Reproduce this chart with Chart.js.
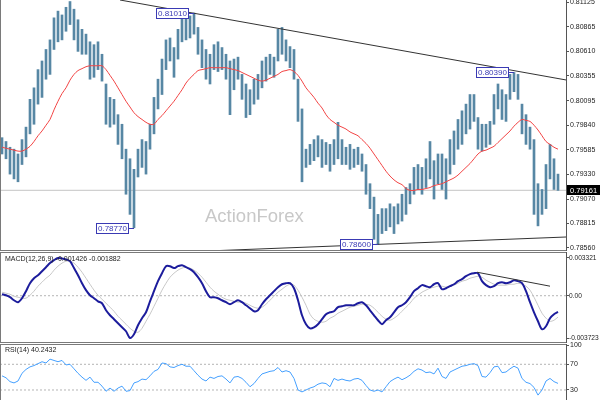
<!DOCTYPE html>
<html>
<head>
<meta charset="utf-8">
<script src="https://cdn.jsdelivr.net/npm/chart.js@4.4.1/dist/chart.umd.min.js"></script>
<style>
  body { margin: 0; background: #fff; width: 600px; height: 400px; overflow: hidden; position: relative; }
  canvas { position: absolute; left: 0; }
</style>
</head>
<body>
<canvas id="priceChart" width="600" height="251" style="top:0"></canvas>
<canvas id="macdChart" width="600" height="91" style="top:252px"></canvas>
<canvas id="rsiChart" width="600" height="60" style="top:340px"></canvas>
<script>
// price bars (one bar per 4px column of the reference)
const highs = [
  0.7971,0.7967,0.7961,0.7959,0.7954,0.7969,0.7982,0.8011,0.8023,0.8042,
  0.8051,0.8063,0.8073,0.8096,0.8103,0.8099,0.8107,0.8113,0.8105,0.8094,
  0.8084,0.8079,0.8071,0.8068,0.8071,0.8058,0.8027,0.8013,0.8011,0.7995,
  0.7985,0.7959,0.7949,0.7938,0.7959,0.7969,0.7967,0.7985,0.8013,0.8032,
  0.8053,0.8073,0.8075,0.8065,0.8084,0.8100,0.8096,0.8098,0.8101,0.8086,
  0.8073,0.8063,0.8058,0.8068,0.8071,0.8065,0.8058,0.8051,0.8053,0.8055,
  0.8037,0.8027,0.8021,0.8032,0.8037,0.8051,0.8055,0.8058,0.8055,0.8084,
  0.8086,0.8073,0.8066,0.8063,0.8032,0.8001,0.7959,0.7964,0.7969,0.7973,
  0.7969,0.7966,0.7964,0.7969,0.7987,0.7969,0.7961,0.7964,0.7959,0.7961,
  0.7954,0.7943,0.7923,0.7909,0.7891,0.7897,0.7897,0.7902,0.7899,0.7902,
  0.7912,0.7919,0.7923,0.7940,0.7943,0.7940,0.7949,0.7967,0.7947,0.7954,
  0.7954,0.7949,0.7969,0.7978,0.7990,0.7999,0.8006,0.8016,0.8016,0.7992,
  0.7985,0.7985,0.7988,0.8016,0.8027,0.8021,0.8016,0.8037,0.8039,0.8037,
  0.8006,0.7995,0.7982,0.7969,0.7923,0.7917,0.7943,0.7964,0.7949,0.7933
];
const lows = [
  0.7954,0.7949,0.7933,0.7928,0.7925,0.7943,0.7951,0.7975,0.7985,0.8006,
  0.8013,0.8032,0.8037,0.8063,0.8071,0.8073,0.8082,0.8089,0.8073,0.8061,
  0.8058,0.8058,0.8032,0.8034,0.8042,0.8030,0.7985,0.7982,0.7985,0.7964,
  0.7949,0.7912,0.7891,0.7877,0.7930,0.7940,0.7933,0.7959,0.7975,0.8001,
  0.8016,0.8042,0.8051,0.8034,0.8053,0.8071,0.8073,0.8075,0.8079,0.8058,
  0.8044,0.8032,0.8027,0.8042,0.8040,0.8042,0.8032,0.7995,0.8021,0.8032,
  0.8011,0.7992,0.7995,0.8006,0.8011,0.8023,0.8030,0.8037,0.8034,0.8051,
  0.8058,0.8051,0.8044,0.8032,0.7988,0.7925,0.7940,0.7943,0.7947,0.7951,
  0.7940,0.7943,0.7936,0.7943,0.7949,0.7943,0.7943,0.7938,0.7940,0.7943,
  0.7936,0.7912,0.7897,0.7865,0.7860,0.7871,0.7874,0.7878,0.7871,0.7881,
  0.7884,0.7891,0.7902,0.7912,0.7917,0.7912,0.7919,0.7928,0.7907,0.7923,
  0.7917,0.7907,0.7933,0.7943,0.7959,0.7964,0.7975,0.7980,0.7988,0.7959,
  0.7957,0.7961,0.7964,0.7985,0.8001,0.7990,0.7988,0.8011,0.8019,0.8011,
  0.7975,0.7964,0.7959,0.7891,0.7879,0.7891,0.7897,0.7928,0.7917,0.7916
];
const movingAvg = [
  0.7961,0.7960,0.7959,0.7958,0.7957,0.7957,0.7959,0.7962,0.7967,0.7973,
  0.7978,0.7984,0.7990,0.8000,0.8009,0.8017,0.8023,0.8031,0.8037,0.8041,
  0.8043,0.8045,0.8046,0.8046,0.8046,0.8046,0.8042,0.8036,0.8030,0.8023,
  0.8016,0.8009,0.8003,0.7997,0.7993,0.7990,0.7987,0.7985,0.7985,0.7990,
  0.7994,0.7999,0.8004,0.8009,0.8015,0.8021,0.8028,0.8033,0.8037,0.8041,
  0.8042,0.8043,0.8044,0.8044,0.8044,0.8044,0.8044,0.8043,0.8042,0.8041,
  0.8039,0.8037,0.8035,0.8033,0.8031,0.8030,0.8031,0.8033,0.8035,0.8037,
  0.8040,0.8041,0.8042,0.8040,0.8036,0.8030,0.8023,0.8018,0.8013,0.8007,
  0.8002,0.7995,0.7990,0.7987,0.7984,0.7982,0.7980,0.7977,0.7975,0.7973,
  0.7969,0.7965,0.7960,0.7954,0.7948,0.7942,0.7936,0.7931,0.7927,0.7924,
  0.7922,0.7918,0.7916,0.7916,0.7917,0.7917,0.7918,0.7919,0.7921,0.7922,
  0.7923,0.7925,0.7927,0.7929,0.7932,0.7936,0.7940,0.7944,0.7949,0.7954,
  0.7957,0.7958,0.7960,0.7962,0.7966,0.7970,0.7974,0.7978,0.7983,0.7987,
  0.7990,0.7989,0.7988,0.7984,0.7979,0.7973,0.7967,0.7964,0.7961,0.7959
];
const macdLine = [
  0.00013,0.00004,-0.00013,-0.0004,-0.00057,-0.00022,0.0004,0.0011,0.00154,0.00181,
  0.00216,0.00251,0.00287,0.00313,0.00332,0.00328,0.0032,0.00304,0.00243,0.00181,
  0.0011,0.00049,0.00004,-0.00022,-0.00049,-0.00066,-0.00128,-0.00172,-0.00207,-0.00243,
  -0.00278,-0.00313,-0.00372,-0.0034,-0.0026,-0.00198,-0.00146,-0.00049,0.0004,0.00128,
  0.00198,0.0026,0.0026,0.00243,0.0026,0.00269,0.00251,0.00234,0.00207,0.00163,
  0.0011,0.0004,-0.00013,-0.00013,-0.00022,-0.0004,-0.00057,-0.00075,-0.00057,-0.0004,
  -0.00057,-0.00084,-0.0011,-0.00137,-0.00128,-0.00075,-0.00031,0.00004,0.0004,0.00075,
  0.00101,0.0011,0.0011,0.00066,-0.0004,-0.00172,-0.00251,-0.00287,-0.00278,-0.00251,
  -0.00207,-0.00163,-0.00146,-0.00137,-0.00101,-0.00093,-0.00084,-0.00084,-0.00084,-0.00066,
  -0.00057,-0.00084,-0.00128,-0.00172,-0.00216,-0.00251,-0.00216,-0.0019,-0.00146,-0.00101,
  -0.00084,-0.00057,-0.00013,0.0004,0.00066,0.00093,0.00084,0.00075,0.00101,0.0011,
  0.00057,0.00066,0.00084,0.00101,0.00128,0.00146,0.00172,0.0019,0.00198,0.00198,
  0.00128,0.00093,0.00075,0.00084,0.0011,0.00119,0.0011,0.00119,0.00137,0.00128,
  0.0011,0.0004,-0.00057,-0.00146,-0.00225,-0.00295,-0.00269,-0.00198,-0.00163,-0.00143
];
const signalLine = [
  0.00031,0.00022,0.00013,-0.00004,-0.00013,-0.00022,-0.00022,0.00004,0.0004,0.00084,
  0.00119,0.00154,0.00181,0.00225,0.0026,0.00287,0.00304,0.00304,0.00287,0.00251,
  0.00207,0.00154,0.00101,0.00049,0.00004,-0.00031,-0.00066,-0.00101,-0.00137,-0.00181,
  -0.00216,-0.00251,-0.00287,-0.00313,-0.00322,-0.00287,-0.00225,-0.00163,-0.00093,-0.00022,
  0.00049,0.0011,0.00163,0.00198,0.00225,0.00243,0.00251,0.00243,0.00225,0.00198,
  0.00163,0.00119,0.00075,0.0004,0.00013,-0.00013,-0.00031,-0.0004,-0.00049,-0.00057,
  -0.00057,-0.00066,-0.00084,-0.00101,-0.0011,-0.00101,-0.00075,-0.0004,-0.00004,0.00031,
  0.00057,0.00084,0.00101,0.00093,0.00049,-0.00013,-0.00084,-0.00163,-0.00207,-0.00225,
  -0.00234,-0.00225,-0.00198,-0.00181,-0.00154,-0.00137,-0.00119,-0.00101,-0.00093,-0.00084,
  -0.00075,-0.00075,-0.00084,-0.0011,-0.00146,-0.00181,-0.00207,-0.00216,-0.00198,-0.00172,
  -0.00137,-0.00101,-0.00066,-0.00022,0.00004,0.00031,0.00049,0.00066,0.00075,0.00084,
  0.00084,0.00075,0.00084,0.00093,0.0011,0.00128,0.00137,0.00154,0.00163,0.00172,
  0.00163,0.00137,0.00119,0.00101,0.00093,0.00093,0.00093,0.00101,0.00101,0.0011,
  0.00101,0.00084,0.00049,-0.00013,-0.00084,-0.00154,-0.00198,-0.00225,-0.00216,-0.00188
];
const rsiLine = [
  52,49,43,41,44,56,62,66,68,71,
  74,72,78,76,74,76,69,70,63,56,
  50,45,50,42,42,36,28,33,28,33,
  36,28,29,41,43,47,46,52,59,62,
  72,71,66,65,68,70,67,67,60,53,
  47,44,50,48,51,52,47,41,50,51,
  48,42,35,40,48,55,57,59,60,65,
  58,60,58,48,30,27,30,33,35,39,
  41,40,35,48,45,47,45,44,47,48,
  45,37,30,28,30,27,35,43,47,50,
  46,49,53,59,63,61,57,58,55,64,
  51,48,58,61,64,67,68,70,71,68,
  51,50,57,66,67,57,58,63,67,64,
  48,42,40,34,22,30,44,48,43,40.24
];

const priceTicks = [0.81125, 0.80865, 0.80610, 0.80355, 0.80095, 0.79840, 0.79585, 0.79330, 0.79070, 0.78815, 0.78560];
const macdTicks = [0.003321, 0, -0.003723];
const rsiTicks = [100, 70, 30];
const rsiLevels = [70, 30];
const lastClose = 0.79161;

// labelled swing points (bar index, price)
const markIdx = [48, 33, 94, 128];
const markVals = [0.81010, 0.78770, 0.78600, 0.80390];

// trend lines: [bar index], [value]
const upperTrendX = [29.5, 141], upperTrendY = [0.81146, 0.80312];
const lowerTrendX = [49.5, 141], lowerTrendY = [0.78525, 0.78674];
const macdTrendX = [118.75, 137], macdTrendY = [0.00207, 0.00084];

Chart.defaults.font.family = "'Liberation Sans', Arial, sans-serif";
Chart.defaults.font.size = 7;
Chart.defaults.color = '#222';
Chart.defaults.animation = false;
Chart.defaults.plugins.legend.display = false;
Chart.defaults.plugins.tooltip.enabled = false;

const toPoints = arr => arr.map((v, i) => ({x: i, y: v}));
const pairPoints = (xs, ys) => xs.map((x, i) => ({x: x, y: ys[i]}));

const xAxis = {type: 'linear', min: -0.5, max: 141, display: false, offset: false};

function rightAxis(min, max, tickVals, fmt, size) {
    return {
        position: 'right', min: min, max: max,
        afterBuildTicks: s => { s.ticks = tickVals.map(v => ({value: v})); },
        afterFit: s => { s.width = 34; s.paddingTop = 0; s.paddingBottom = 0; },
        ticks: {callback: fmt, padding: size < 7 ? 0 : 1, autoSkip: false, color: '#222', font: {size: size}},
        grid: {drawOnChartArea: false, drawTicks: true, tickLength: 3, color: '#555'},
        border: {display: true, color: '#555'}
    };
}

function flatLine(value, color) {
    return {type: 'line', data: [{x: -0.5, y: value}, {x: 141, y: value}], borderColor: color,
        borderWidth: 1, borderDash: [2, 2], pointRadius: 0, order: 5};
}

// panel frame lines
const frame = {
    id: 'frame',
    afterDraw(chart, args, opts) {
        const {ctx, chartArea: a} = chart;
        ctx.save();
        ctx.strokeStyle = '#7a7a7a';
        ctx.lineWidth = 1;
        ctx.beginPath();
        if (opts.top) { ctx.moveTo(a.left, a.top + 0.5); ctx.lineTo(a.right, a.top + 0.5); }
        if (opts.bottom) { ctx.moveTo(a.left, a.bottom - 0.5); ctx.lineTo(a.right, a.bottom - 0.5); }
        ctx.moveTo(a.left + 0.5, a.top); ctx.lineTo(a.left + 0.5, a.bottom);
        ctx.stroke();
        ctx.restore();
    }
};

// indicator caption in the top-left corner of a panel
const caption = {
    id: 'caption',
    afterDatasetsDraw(chart, args, opts) {
        const {ctx, chartArea: a} = chart;
        ctx.save();
        ctx.font = "7px 'Liberation Sans', Arial, sans-serif";
        ctx.fillStyle = '#222';
        ctx.textBaseline = 'middle';
        ctx.fillText(opts.text, a.left + 5, a.top + opts.dy);
        ctx.restore();
    }
};

const watermark = {
    id: 'watermark',
    beforeDatasetsDraw(chart) {
        const {ctx, chartArea: a} = chart;
        ctx.save();
        ctx.font = "18.5px 'Liberation Sans', Arial, sans-serif";
        ctx.fillStyle = '#c8c8c8';
        ctx.textBaseline = 'alphabetic';
        ctx.fillText('ActionForex', a.left + 205, a.top + 222);
        ctx.restore();
    }
};

const priceMarks = {
    id: 'priceMarks',
    afterDatasetsDraw(chart) {
        const {ctx, scales: {x, y}} = chart;
        ctx.save();
        ctx.font = "8px 'Liberation Sans', Arial, sans-serif";
        ctx.textBaseline = 'middle';
        ctx.lineWidth = 1;
        markIdx.forEach((idx, k) => {
            const px = x.getPixelForValue(idx);
            const py = Math.round(y.getPixelForValue(markVals[k])) + 0.5;
            const label = markVals[k].toFixed(5);
            const w = 32, h = 10;
            const bx = Math.round(px) - 6 - w;
            ctx.strokeStyle = '#3a3ab4';
            ctx.fillStyle = '#fff';
            ctx.fillRect(bx, py - h / 2, w, h);
            ctx.strokeRect(bx + 0.5, py - h / 2, w, h);
            ctx.beginPath();
            ctx.moveTo(bx + w, py);
            ctx.lineTo(px, py);
            ctx.stroke();
            ctx.fillStyle = '#3a3ab4';
            ctx.fillText(label, bx + 2, py + 0.5);
        });
        // last price tag on the axis
        const ty = Math.round(y.getPixelForValue(lastClose));
        const right = chart.chartArea.right;
        ctx.fillStyle = '#000';
        ctx.fillRect(right + 1, ty - 5, 33, 10);
        ctx.fillStyle = '#fff';
        ctx.font = "7.5px 'Liberation Sans', Arial, sans-serif";
        ctx.fillText(lastClose.toFixed(5), right + 4, ty + 0.5);
        ctx.restore();
    }
};

new Chart(document.getElementById('priceChart'), {
    type: 'bar',
    data: {
        datasets: [
            {type: 'line', data: [{x: -0.5, y: lastClose}, {x: 141, y: lastClose}], borderColor: '#c4c4c4',
             borderWidth: 1, pointRadius: 0, order: 6},
            {type: 'bar', data: highs.map((h, i) => ({x: i, y: [lows[i], h]})), backgroundColor: '#5787a4',
             barThickness: 2, order: 4},
            {type: 'line', data: toPoints(movingAvg), borderColor: '#f24444', borderWidth: 1, pointRadius: 0,
             tension: 0.3, order: 3},
            {type: 'line', data: pairPoints(upperTrendX, upperTrendY), borderColor: '#333', borderWidth: 1,
             pointRadius: 0, order: 1},
            {type: 'line', data: pairPoints(lowerTrendX, lowerTrendY), borderColor: '#333', borderWidth: 1,
             pointRadius: 0, order: 1}
        ]
    },
    options: {
        responsive: false,
        layout: {padding: 0},
        scales: {
            x: xAxis,
            y: rightAxis(0.78528, 0.81146, priceTicks, v => v.toFixed(5), 7)
        },
        plugins: {frame: {bottom: true}}
    },
    plugins: [frame, watermark, priceMarks]
});

new Chart(document.getElementById('macdChart'), {
    type: 'line',
    data: {
        datasets: [
            flatLine(0, '#b4b4b4'),
            {data: toPoints(signalLine), borderColor: '#c8c8c8', borderWidth: 1, pointRadius: 0, tension: 0.3, order: 3},
            {data: toPoints(macdLine), borderColor: '#1c1c9c', borderWidth: 2, pointRadius: 0, tension: 0.3, order: 2},
            {data: pairPoints(macdTrendX, macdTrendY), borderColor: '#333', borderWidth: 1, pointRadius: 0, order: 1}
        ]
    },
    options: {
        responsive: false,
        layout: {padding: 0},
        scales: {
            x: xAxis,
            y: rightAxis(-0.004163, 0.003849, macdTicks, v => v === 0 ? '0.00' : v.toFixed(6), 6.6)
        },
        plugins: {
            frame: {top: true, bottom: true},
            caption: {text: 'MACD(12,26,9) -0.001426 -0.001882', dy: 7.5}
        }
    },
    plugins: [frame, caption]
});

new Chart(document.getElementById('rsiChart'), {
    type: 'line',
    data: {
        datasets: [
            flatLine(rsiLevels[0], '#b4b4b4'),
            flatLine(rsiLevels[1], '#b4b4b4'),
            {data: toPoints(rsiLine), borderColor: '#45a0ff', borderWidth: 1, pointRadius: 0, order: 1}
        ]
    },
    options: {
        responsive: false,
        layout: {padding: {top: 4}},
        scales: {
            x: xAxis,
            y: rightAxis(14.4, 101.6, rsiTicks, v => String(v), 7)
        },
        plugins: {
            frame: {top: true},
            caption: {text: 'RSI(14) 40.2432', dy: 6.5}
        }
    },
    plugins: [frame, caption]
});
</script>
</body>
</html>
